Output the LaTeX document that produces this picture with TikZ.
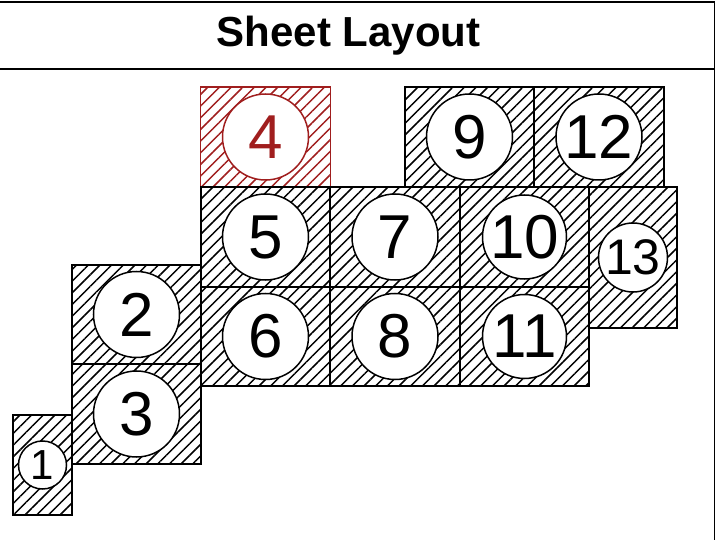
\documentclass[tikz,border=0pt]{standalone}
\usepackage{fontspec}
\setmainfont{Liberation Sans}
\usetikzlibrary{patterns.meta}
\definecolor{sheetred}{HTML}{A01E1E}
\begin{document}
\begin{tikzpicture}[x=1pt,y=-1pt,
  sheet/.style={rectangle, draw=black, line width=1.9pt, inner sep=0pt,
    pattern={Lines[angle=45,distance=8.25pt,line width=1.5pt]}, pattern color=black},
  redsheet/.style={sheet, draw=sheetred, line width=1.4pt, pattern color=sheetred},
  disc/.style={circle, draw=black, fill=white, line width=1.5pt, inner sep=0pt,
    minimum size=86pt, font=\fontsize{62}{62}\selectfont},
  reddisc/.style={disc, draw=sheetred, text=sheetred},
  frameline/.style={line width=1.9pt}
]
\useasboundingbox (0,0) rectangle (718,540);
\clip (0,0) rectangle (718,540);
% frame
\coordinate (ftl) at (-5,2);
\coordinate (ftr) at (714.5,2);
\coordinate (fbr) at (714.5,545);
\coordinate (fsl) at (-5,69);
\coordinate (fsr) at (714.5,69);
\draw[frameline] (ftl) -- (ftr) -- (fbr);
\draw[frameline] (fsl) -- (fsr);
\node[anchor=base, font=\fontsize{42}{42}\bfseries\selectfont, inner sep=0pt] (title) at (348.5,47) {Sheet Layout};
% sheets
\node[redsheet, minimum width=130pt, minimum height=100pt] (b4) at (265.5,137) {};
\node[sheet, minimum width=59pt, minimum height=100pt] (b1) at (42.5,465) {};
\node[sheet, minimum width=129pt, minimum height=99pt] (b2) at (136.5,314.5) {};
\node[sheet, minimum width=129pt, minimum height=100pt] (b3) at (136.5,414) {};
\node[sheet, minimum width=129pt, minimum height=100pt] (b5) at (265.5,237) {};
\node[sheet, minimum width=129pt, minimum height=99pt] (b6) at (265.5,336.5) {};
\node[sheet, minimum width=130pt, minimum height=100pt] (b7) at (395,237) {};
\node[sheet, minimum width=130pt, minimum height=99pt] (b8) at (395,336.5) {};
\node[sheet, minimum width=129pt, minimum height=100pt] (b9) at (469.5,137) {};
\node[sheet, minimum width=129pt, minimum height=100pt] (b10) at (524.5,237) {};
\node[sheet, minimum width=129pt, minimum height=99pt] (b11) at (524.5,336.5) {};
\node[sheet, minimum width=130pt, minimum height=100pt] (b12) at (599,137) {};
\node[sheet, minimum width=88pt, minimum height=141pt] (b13) at (633,257.5) {};
% discs
\node[disc, minimum size=48pt, font=\fontsize{42}{42}\selectfont] (c1) at (b1.center) {1};
\node[disc] (c2) at (b2.center) {2};
\node[disc] (c3) at (b3.center) {3};
\node[reddisc] (c4) at (b4.center) {4};
\node[disc] (c5) at (b5.center) {5};
\node[disc] (c6) at (b6.center) {6};
\node[disc] (c7) at (b7.center) {7};
\node[disc] (c8) at (b8.center) {8};
\node[disc] (c9) at (b9.center) {9};
\node[disc, minimum size=84pt] (c10) at (b10.center) {10};
\node[disc, minimum size=84pt] (c11) at (b11.center) {11};
\node[disc] (c12) at (b12.center) {12};
\node[disc, minimum size=69pt, font=\fontsize{50}{50}\selectfont] (c13) at (b13.center) {13};
\end{tikzpicture}
\end{document}
